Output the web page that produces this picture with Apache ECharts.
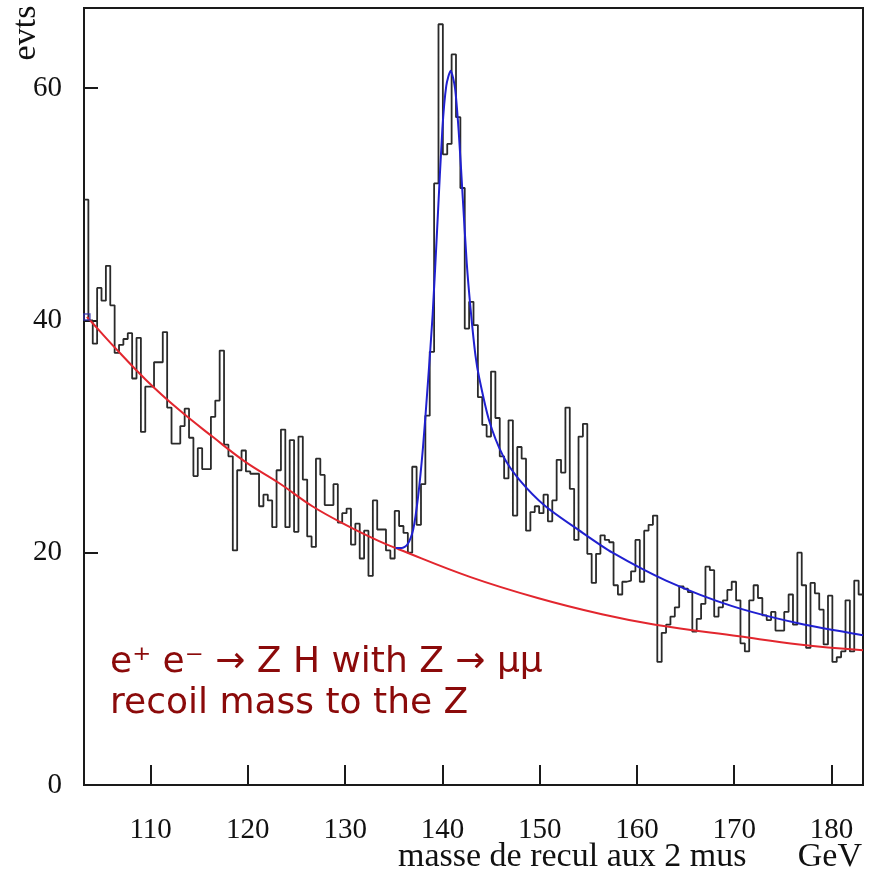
<!DOCTYPE html>
<html>
<head>
<meta charset="utf-8">
<script src="https://cdn.jsdelivr.net/npm/echarts@6/dist/echarts.min.js"></script>
<style>
html,body{margin:0;padding:0;background:#ffffff;}
#chart{width:876px;height:871px;}
</style>
</head>
<body>
<div id="chart"></div>
<script>
// ---- data ----
const binStart = 103.15;   // GeV, left edge of first visible bin
const binWidth = 0.45;     // GeV
const counts = [
  50.4, 40.0, 38.0, 42.8, 41.7, 44.7, 41.3, 37.2, 37.9, 38.4,
  38.9, 35.0, 38.5, 30.4, 34.3, 34.3, 36.4, 36.4, 39.0, 32.5,
  29.4, 29.4, 30.9, 32.4, 29.9, 26.6, 29.0, 27.2, 27.2, 31.7,
  33.1, 37.4, 29.3, 28.3, 20.2, 27.1, 28.8, 27.0, 26.8, 26.8,
  24.0, 25.0, 24.5, 22.2, 27.1, 30.6, 22.2, 29.7, 21.8, 30.0,
  26.3, 21.4, 20.5, 28.1, 26.7, 24.1, 24.1, 25.9, 22.6, 23.4,
  23.8, 20.7, 22.5, 19.5, 21.9, 18.0, 24.5, 22.0, 22.0, 20.2,
  19.5, 23.6, 22.3, 21.7, 20.0, 27.4, 22.4, 25.9, 31.8, 37.3,
  51.8, 65.5, 54.3, 55.2, 62.9, 57.5, 51.4, 39.3, 41.6, 39.6,
  33.4, 31.0, 30.0, 35.6, 31.6, 28.3, 26.4, 31.4, 23.2, 29.1,
  28.1, 21.9, 23.5, 24.0, 23.4, 25.0, 22.7, 24.5, 28.0, 26.9,
  32.5, 25.5, 21.1, 30.0, 31.1, 19.9, 17.4, 19.9, 21.5, 21.1,
  20.9, 17.2, 16.4, 17.5, 17.6, 18.4, 21.1, 17.5, 21.9, 22.4,
  23.2, 10.6, 13.1, 13.8, 14.5, 15.3, 17.1, 16.9, 16.6, 13.2,
  14.3, 15.6, 18.8, 18.5, 14.5, 15.3, 15.9, 16.8, 17.5, 15.9,
  12.2, 11.5, 15.9, 17.2, 16.1, 14.6, 14.2, 14.9, 13.3, 13.3,
  14.9, 16.4, 13.8, 20.0, 17.2, 11.8, 17.4, 16.5, 15.1, 12.1,
  16.3, 10.6, 11.0, 11.5, 15.9, 11.5, 17.6, 16.4
];

const xTicks = [110, 120, 130, 140, 150, 160, 170, 180];
const yTicks = [0, 20, 40, 60];

// background fit (red)
const bgFitX = [103.45, 104.0, 106.06, 109.5, 112.92, 116.35, 119.78, 123.2, 126.63, 130.06, 133.49, 135.5, 142.9, 149.8, 156.4, 161.9, 170.5, 176.7, 183.25];
const bgFitY = [40.3, 39.8, 37.9, 34.9, 32.3, 30.0, 27.8, 26.0, 24.0, 22.4, 21.0, 20.3, 17.9, 16.1, 14.7, 13.8, 12.8, 12.1, 11.6];

// signal + background fit (blue)
const sigFitX = [135.2, 135.8, 136.4, 137.0, 137.5, 138.0, 138.5, 139.0, 139.5, 140.0, 140.4, 140.85, 141.3, 141.7, 142.1, 142.5, 142.9, 143.4, 143.8, 144.8, 146.2, 147.9, 150.6, 154.1, 157.5, 163.0, 169.8, 176.7, 183.25];
const sigFitY = [20.4, 20.4, 20.7, 22.0, 24.8, 29.0, 34.5, 40.5, 48.5, 56.5, 60.2, 61.5, 60.0, 56.0, 50.5, 45.0, 41.0, 37.0, 35.0, 31.4, 28.4, 26.3, 24.0, 21.9, 20.0, 17.6, 15.4, 13.9, 12.9];

const xMin = 103.15, xMax = 183.25;
const yMin = 0, yMax = 66.9;

// ---- build series data ----
const histData = counts.map((v, i) => [binStart + i * binWidth, v]);
histData.push([binStart + counts.length * binWidth, counts[counts.length - 1]]);
const bgData = bgFitX.map((x, i) => [x, bgFitY[i]]);
const sigData = sigFitX.map((x, i) => [x, sigFitY[i]]);

const chart = echarts.init(document.getElementById('chart'), null, {renderer: 'canvas'});
const serif = '"Liberation Serif", "Times New Roman", serif';

chart.setOption({
  animation: false,
  backgroundColor: '#ffffff',
  grid: {
    left: 84, right: 13, top: 8, bottom: 86,
    show: true, borderColor: '#1a1a1a', borderWidth: 2
  },
  xAxis: {
    type: 'value', min: xMin, max: xMax,
    axisLine: {show: true, lineStyle: {color: '#1a1a1a', width: 2}},
    axisTick: {show: true, inside: true, length: 20, customValues: xTicks, lineStyle: {color: '#1a1a1a', width: 2}},
    axisLabel: {show: true, customValues: xTicks, margin: 31, fontFamily: serif, fontSize: 29, color: '#111'},
    splitLine: {show: false}
  },
  yAxis: {
    type: 'value', min: yMin, max: yMax,
    axisLine: {show: true, lineStyle: {color: '#1a1a1a', width: 2}},
    axisTick: {show: true, inside: true, length: 14, customValues: yTicks, lineStyle: {color: '#1a1a1a', width: 2}},
    axisLabel: {show: true, customValues: yTicks, margin: 22, fontFamily: serif, fontSize: 29, color: '#111'},
    splitLine: {show: false}
  },
  series: [
    {
      name: 'hist', type: 'line', step: 'end', data: histData,
      showSymbol: false, clip: true,
      lineStyle: {color: '#2a2a2a', width: 1.8},
      z: 2
    },
    {
      name: 'bg', type: 'line', data: bgData, smooth: 0.4,
      showSymbol: false, clip: true,
      lineStyle: {color: '#e2262e', width: 2},
      z: 3
    },
    {
      name: 'sig', type: 'line', data: sigData, smooth: 0.25,
      showSymbol: false, clip: true,
      lineStyle: {color: '#2020d0', width: 2},
      z: 4
    },
    {
      name: 'marker', type: 'scatter', data: [[bgFitX[0], bgFitY[0]]],
      symbol: 'rect', symbolSize: 6,
      itemStyle: {color: 'rgba(0,0,0,0)', borderColor: '#3030b0', borderWidth: 1.5},
      z: 5
    }
  ],
  graphic: [
    {type: 'text', x: 26, y: 33, rotation: Math.PI / 2,
     style: {text: 'evts', fontFamily: serif, fontSize: 34, fill: '#111', align: 'center', verticalAlign: 'middle'}},
    {type: 'text', x: 398, y: 857,
     style: {text: 'masse de recul aux 2 mus', fontFamily: serif, fontSize: 34, fill: '#111', align: 'left', verticalAlign: 'middle'}},
    {type: 'text', x: 862, y: 857,
     style: {text: 'GeV', fontFamily: serif, fontSize: 34, fill: '#111', align: 'right', verticalAlign: 'middle'}},
    {type: 'text', x: 110, y: 663,
     style: {text: 'e\u207A e\u207B \u2192 Z H with Z \u2192 \u03BC\u03BC', fontFamily: '"DejaVu Sans", sans-serif', fontSize: 36, fill: '#8b0a0a', align: 'left', verticalAlign: 'middle'}},
    {type: 'text', x: 110, y: 704,
     style: {text: 'recoil mass to the Z', fontFamily: '"DejaVu Sans", sans-serif', fontSize: 36, fill: '#8b0a0a', align: 'left', verticalAlign: 'middle'}}
  ]
});
</script>
</body>
</html>
